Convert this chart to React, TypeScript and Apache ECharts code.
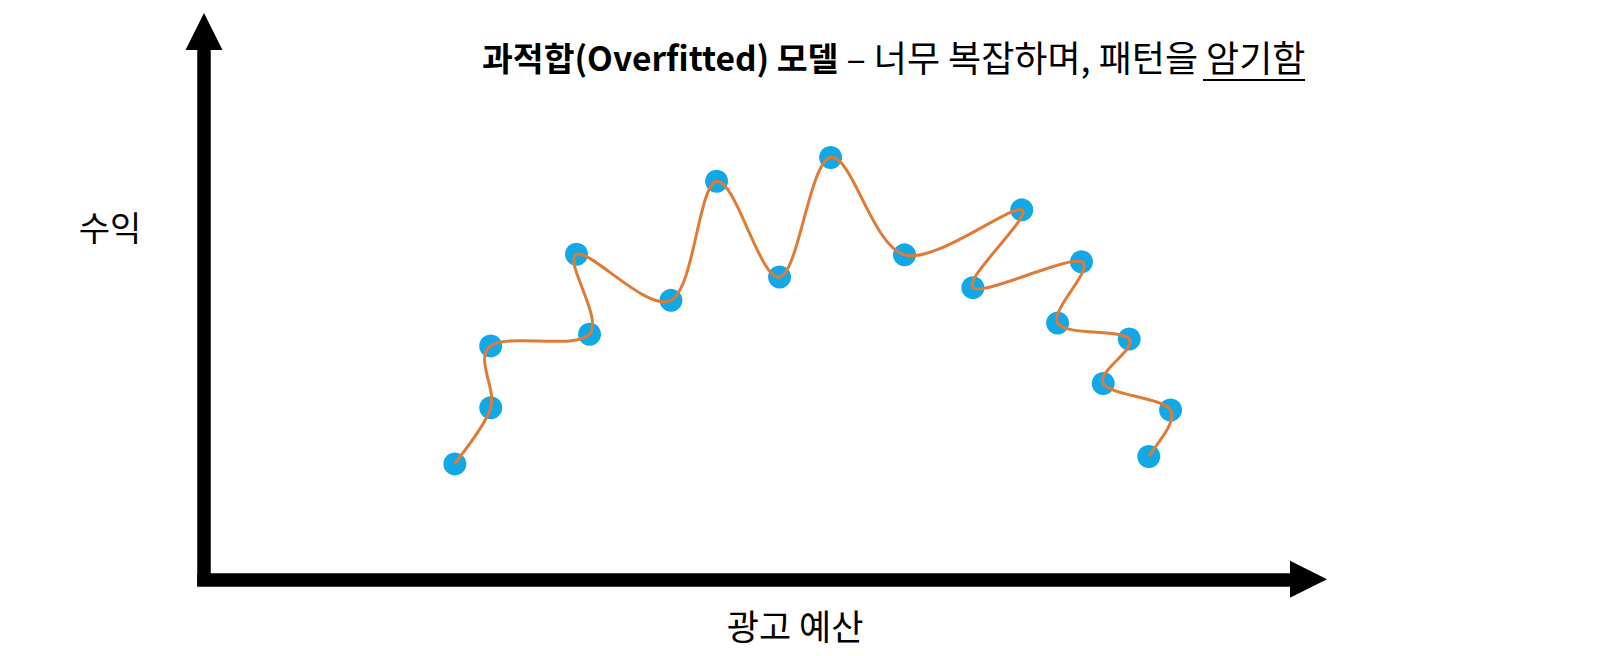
import React, { useEffect, useRef } from "react";
import * as echarts from "echarts";

// 광고 예산 (x) and 수익 (y), arbitrary 0–100 units
const budget = [23.1, 26.4, 26.4, 35.5, 34.3, 43.0, 47.2, 53.0, 57.7, 64.5, 75.3, 70.8, 80.8, 78.6, 85.2, 82.8, 89.0, 87.0];
const revenue = [21.8, 32.4, 44.1, 46.3, 61.4, 52.7, 75.2, 57.1, 79.7, 61.3, 69.8, 55.1, 60.0, 48.4, 45.4, 37.0, 32.0, 23.2];

const titleBold = "과적합(Overfitted) 모델";
const titleRest = " – 너무 복잡하며, 패턴을 ";
const titleUnderlined = "암기함";
const yLabel = "수익";
const xLabel = "광고 예산";

const FONT = '"Noto Sans CJK KR", "Noto Sans", sans-serif';

export default function App() {
  const ref = useRef<HTMLDivElement>(null);
  useEffect(() => {
    if (!ref.current) return;
    const chart = echarts.init(ref.current, undefined, { renderer: "svg" });
    const pts = budget.map((x, i) => [x, revenue[i]]);

    // overfitted curve: Catmull-Rom spline through every point, in pixel space via api.coord
    const renderCurve = (params: any, api: any) => {
      if (params.dataIndex !== 0) return null;
      const c = pts.map((p) => api.coord(p));
      const n = c.length;
      let d = `M${c[0][0]},${c[0][1]}`;
      for (let i = 0; i < n - 1; i++) {
        const p0 = c[Math.max(i - 1, 0)];
        const p1 = c[i];
        const p2 = c[i + 1];
        const p3 = c[Math.min(i + 2, n - 1)];
        const t = 1 / 6;
        const c1x = p1[0] + (p2[0] - p0[0]) * t;
        const c1y = p1[1] + (p2[1] - p0[1]) * t;
        const c2x = p2[0] - (p3[0] - p1[0]) * t;
        const c2y = p2[1] - (p3[1] - p1[1]) * t;
        d += ` C${c1x},${c1y} ${c2x},${c2y} ${p2[0]},${p2[1]}`;
      }
      return {
        type: "path",
        shape: { pathData: d },
        style: { fill: "none", stroke: "#df7b37", lineWidth: 3 },
      };
    };

    chart.setOption({
      animation: false,
      backgroundColor: "#ffffff",
      title: {
        text: `{b|${titleBold}}{r|${titleRest}}{r|${titleUnderlined}}`,
        left: 477,
        top: 33,
        textStyle: {
          rich: {
            b: { fontFamily: FONT, fontSize: 33.5, fontWeight: "bold", color: "#000", verticalAlign: "middle" },
            r: { fontFamily: FONT, fontSize: 36, fontWeight: "normal", color: "#000", verticalAlign: "middle" },
          },
        },
      },
      grid: { left: 204, top: 50, width: 1086, height: 529.3 },
      xAxis: {
        type: "value",
        min: 0,
        max: 100,
        splitLine: { show: false },
        axisTick: { show: false },
        axisLabel: { show: false },
        axisLine: {
          show: true,
          symbol: ["none", "triangle"],
          symbolSize: [37, 37],
          symbolOffset: [0, 18.5],
          lineStyle: { color: "#000", width: 13.5, cap: "square" },
        },
      },
      yAxis: {
        type: "value",
        min: 0,
        max: 100,
        splitLine: { show: false },
        axisTick: { show: false },
        axisLabel: { show: false },
        axisLine: {
          show: true,
          symbol: ["none", "triangle"],
          symbolSize: [37, 37],
          symbolOffset: [0, 18.5],
          lineStyle: { color: "#000", width: 13.5, cap: "square" },
        },
      },
      graphic: [
        {
          type: "line",
          shape: { x1: 1203, y1: 80, x2: 1305, y2: 80 },
          style: { stroke: "#000", lineWidth: 2 },
        },
        {
          type: "text",
          x: 110,
          y: 226,
          style: { text: yLabel, font: `normal 34px ${FONT}`, fill: "#000", align: "center", verticalAlign: "middle" },
        },
        {
          type: "text",
          x: 795,
          y: 624,
          style: { text: xLabel, font: `normal 35px ${FONT}`, fill: "#000", align: "center", verticalAlign: "middle" },
        },
      ],
      series: [
        {
          type: "scatter",
          data: pts,
          symbolSize: 23,
          itemStyle: { color: "#12a8e6", opacity: 1 },
          z: 2,
        },
        {
          type: "custom",
          data: pts,
          renderItem: renderCurve,
          z: 3,
        },
      ],
    });
    return () => chart.dispose();
  }, []);
  return <div ref={ref} style={{ position: "fixed", left: 0, top: 0, width: 1604, height: 656 }} />;
}
